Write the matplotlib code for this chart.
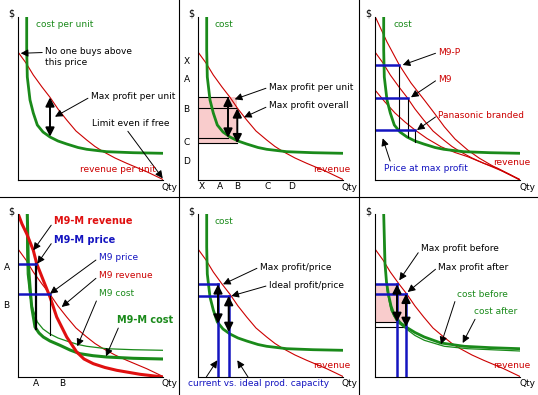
import matplotlib
matplotlib.use("Agg")
import matplotlib.pyplot as plt
from matplotlib.lines import Line2D
from matplotlib.patches import Rectangle

plt.rcParams["font.family"] = ["DejaVu Sans"]
FS = 6.5

GREEN = "#1a8a1a"
RED = "#cc0000"
BLUE = "#1414c0"
PINK = "#f9cccc"

# --- curves (qty, $) in panel units ---
COST_Q = [8.7, 8.7, 9.3, 12, 15.3, 19.3, 25, 32, 40, 48.7, 60, 68.7, 88.7, 115, 145]
COST_P = [163, 130, 103, 80, 67, 55, 48, 43, 39, 36, 32.5, 30.7, 28.3, 27.3, 26.7]

REV_Q = [0, 8, 15.3, 24, 32, 40, 48.7, 58, 68.7, 77, 85.3, 97, 108.7, 128.7, 145]
REV_P = [128, 117, 105, 93, 82.7, 71, 60, 49, 40, 33.5, 28.3, 22, 16.7, 8.3, 0.5]

M9P_Q = [1, 12, 24.3, 36, 49.3, 60, 69.3, 80, 92.7, 104, 116, 130, 145]
M9P_P = [161.7, 138, 115, 97, 80, 66, 53.3, 41, 30, 22, 15, 7.5, 0]

PANA_Q = [0, 10, 20, 30, 40, 52, 66, 80, 92.7, 108, 122.7, 135, 145]
PANA_P = [90, 78, 67, 58, 50, 41.5, 33.3, 27.5, 23.3, 17, 11.7, 5.5, 0]

M9M_REV_Q = [0.3, 4, 8.7, 15.3, 18.7, 25.3, 32, 38.7, 48.7, 58.7, 66, 75.3, 87, 98.7, 122, 145]
M9M_REV_P = [162.7, 153, 143.3, 126.7, 113.3, 96.7, 80, 60, 40, 25, 18, 13.3, 9.5, 6.7, 2.7, 0]

M9M_COST_Q = [9.3, 10.3, 12, 13.7, 17, 21, 25.3, 32, 42, 52, 62, 75, 88.7, 115.3, 145]
M9M_COST_P = [162.7, 113.3, 90, 70, 50, 44, 40, 36, 31.7, 27, 23.3, 21.3, 20, 18.7, 18]

BEFORE_Q = [8.7, 10, 11.5, 13.3, 16, 19.3, 25, 31, 40, 49.3, 66, 89.3, 116, 145]
BEFORE_P = [163, 113.3, 95, 83.3, 71, 61.7, 54.5, 50, 44.5, 40, 34, 30.7, 29.3, 28.3]
AFTER_Q = [8.7, 9.5, 12, 16, 22, 31, 40, 49.3, 69.3, 92.7, 145]
AFTER_P = [163, 120, 86.7, 66.7, 55, 48.3, 41.5, 36.7, 30.7, 28.3, 26]

# tick labels
P2_YTICKS = [120, 101, 71.7, 38.3, 20]
P2_YLABELS = ["X", "A", "B", "C", "D"]
P2_XTICKS = [3.3, 21.7, 39.3, 70, 94]
P2_XLABELS = ["X", "A", "B", "C", "D"]
P4_YTICKS = [110, 73]
P4_XTICKS = [18, 43.7]
P4_LABELS = ["A", "B"]

# price / quantity levels
P2_Q = [30, 39.3]
P2_TOP = [83.3, 71.7]
P2_BOT = [42.3, 36.7]
P3_Q = [24.3, 32.7, 40]
P3_PRICE = [115, 81.7, 50]
P3_COST = [50, 43.3, 38.3]
P4_Q = [18, 32]
P4_PRICE = [112.7, 83.3]
P4_COST = [48.3, 42.3]
P5_Q = [20, 30.7]
P5_PRICE = [92.7, 81]
P5_COST = [53.3, 45]
P6_Q = [22, 31]
P6_PRICE = [92.7, 83.3]
P6_COST = [55, 50]

W, H = 538, 395
fig = plt.figure(figsize=(W / 100, H / 100), dpi=100)

for x in (179, 359):
    fig.add_artist(Line2D([x / W, x / W], [0, 1], color="black", lw=0.8))
fig.add_artist(Line2D([0, 1], [1 - 197 / H, 1 - 197 / H], color="black", lw=0.8))


def panel(left, bottom):
    ax = fig.add_axes([left / W, 1 - bottom / H, 145 / W, 163 / H])
    ax.set_xlim(0, 145)
    ax.set_ylim(0, 163)
    ax.patch.set_alpha(0)
    for s in ("top", "right"):
        ax.spines[s].set_visible(False)
    for s in ("left", "bottom"):
        ax.spines[s].set_linewidth(0.8)
    ax.set_xticks([])
    ax.set_yticks([])
    ax.tick_params(length=0, labelsize=FS)
    ax.text(-7, 166, "$", fontsize=FS + 0.5, ha="center", va="center", clip_on=False)
    ax.text(152, -7, "Qty", fontsize=FS, ha="center", va="center", clip_on=False)
    return ax


def pointer(ax, text, xy, xytext, color="black", relpos=(0, 0.5), **kw):
    ax.annotate(text, xy=xy, xytext=xytext, color=color, fontsize=kw.pop("fontsize", FS),
                ha="left", va=kw.pop("va", "center"), annotation_clip=False,
                arrowprops=dict(arrowstyle="-|>", color="black", lw=0.7, mutation_scale=11,
                                shrinkA=0, shrinkB=0, relpos=relpos), **kw)


def double(ax, q, top, bot):
    ax.annotate("", xy=(q, bot), xytext=(q, top), annotation_clip=False,
                arrowprops=dict(arrowstyle="<|-|>", color="black", lw=1.4, mutation_scale=13,
                                shrinkA=0, shrinkB=0))


axes = [panel(18, 180), panel(198, 180), panel(375, 180),
        panel(18, 377), panel(198, 377), panel(375, 377)]

# panel 1
ax = axes[0]
ax.plot(REV_Q, REV_P, color=RED, lw=0.8)
ax.plot(COST_Q, COST_P, color=GREEN, lw=2)
double(ax, 32, 82.7, 43.3)
ax.text(18, 155.7, "cost per unit", color=GREEN, fontsize=FS, va="center")
pointer(ax, "No one buys above\nthis price", (2.7, 126.7), (27, 132.5), relpos=(0, 0.75), va="top",
        linespacing=1.25)
pointer(ax, "Max profit per unit", (37, 63.3), (72.7, 83.3))
pointer(ax, "Limit even if free", (144.7, 1.7), (73.7, 56), relpos=(0.44, 0))
ax.text(62, 10.7, "revenue per unit", color=RED, fontsize=FS, va="center")

# panel 2
ax = axes[1]
ax.add_patch(Rectangle((0, P2_BOT[1]), P2_Q[1], P2_TOP[0] - P2_BOT[1], color=PINK, lw=0))
for q, t, b in zip(P2_Q, P2_TOP, P2_BOT):
    ax.plot([0, q], [t, t], color="black", lw=0.8)
    ax.plot([0, q], [b, b], color="black", lw=0.8)
ax.plot(REV_Q, REV_P, color=RED, lw=0.8)
ax.plot(COST_Q, COST_P, color=GREEN, lw=2)
for q, t, b in zip(P2_Q, P2_TOP, P2_BOT):
    double(ax, q, t, b)
ax.set_yticks(P2_YTICKS, P2_YLABELS)
ax.set_xticks(P2_XTICKS, P2_XLABELS)
ax.tick_params(axis="y", pad=6)
ax.tick_params(axis="x", pad=1.5)
ax.text(16.7, 155.7, "cost", color=GREEN, fontsize=FS, va="center")
pointer(ax, "Max profit per unit", (36.7, 80.7), (70.7, 92.7))
pointer(ax, "Max profit overall", (46, 62.7), (70.7, 74))
ax.text(115, 11, "revenue", color=RED, fontsize=FS, va="center")

# panel 3
ax = axes[2]
for qs, ps in ((M9P_Q, M9P_P), (REV_Q, REV_P), (PANA_Q, PANA_P)):
    ax.plot(qs, ps, color=RED, lw=0.8)
ax.plot(COST_Q, COST_P, color=GREEN, lw=2)
for q, p, c in zip(P3_Q, P3_PRICE, P3_COST):
    ax.plot([q, q], [p, c], color="black", lw=0.8)
    ax.plot([0, q], [p, p], color=BLUE, lw=1.8)
ax.text(18.7, 155.7, "cost", color=GREEN, fontsize=FS, va="center")
pointer(ax, "M9-P", (27.7, 115), (63.3, 127.7), color=RED)
pointer(ax, "M9", (36, 82.7), (63.3, 101), color=RED)
pointer(ax, "Panasonic branded", (42, 50), (63.3, 65), color=RED)
ax.text(117.7, 17.7, "revenue", color=RED, fontsize=FS, va="center")
pointer(ax, "Price at max profit", (7.7, 41.7), (9.3, 11.7), color=BLUE, relpos=(0.08, 1))

# panel 4
ax = axes[3]
ax.plot(REV_Q, REV_P, color=RED, lw=0.8)
ax.plot(COST_Q, COST_P, color=GREEN, lw=0.9)
ax.plot(M9M_COST_Q, M9M_COST_P, color=GREEN, lw=2.2)
ax.plot(M9M_REV_Q, M9M_REV_P, color="#e01010", lw=2.2)
ax.plot([P4_Q[0]] * 2, [P4_PRICE[0], P4_COST[0]], color="black", lw=1.6)
ax.plot([P4_Q[1]] * 2, [P4_PRICE[1], P4_COST[1]], color="black", lw=0.8)
for q, p in zip(P4_Q, P4_PRICE):
    ax.plot([0, q], [p, p], color=BLUE, lw=1.8)
ax.set_yticks(P4_YTICKS, P4_LABELS)
ax.set_xticks(P4_XTICKS, P4_LABELS)
ax.tick_params(axis="y", pad=6)
ax.tick_params(axis="x", pad=1.5)
pointer(ax, "M9-M revenue", (15.3, 126.7), (36, 155.7), color="#e01010", fontweight="bold", fontsize=7)
pointer(ax, "M9-M price", (19.3, 113.3), (36, 137.3), color=BLUE, fontweight="bold", fontsize=7)
pointer(ax, "M9 price", (32, 83.3), (80.7, 119), color=BLUE)
pointer(ax, "M9 revenue", (43.7, 70), (80.7, 101), color=RED)
pointer(ax, "M9 cost", (59.3, 30.7), (80.7, 83.3), color=GREEN, relpos=(0, 0.3))
pointer(ax, "M9-M cost", (88, 20.7), (98.7, 56.7), color=GREEN, relpos=(0.05, 0),
        fontweight="bold", fontsize=7)

# panel 5
ax = axes[4]
ax.plot(REV_Q, REV_P, color=RED, lw=0.8)
ax.plot(COST_Q, COST_P, color=GREEN, lw=2)
for q, p, c in zip(P5_Q, P5_PRICE, P5_COST):
    ax.plot([0, q], [p, p], color=BLUE, lw=1.8)
    ax.plot([q, q], [0, p], color=BLUE, lw=1.8)
    double(ax, q, p, c)
ax.text(16.7, 155.7, "cost", color=GREEN, fontsize=FS, va="center")
pointer(ax, "Max profit/price", (25, 92.7), (61.7, 110))
pointer(ax, "Ideal profit/price", (33.3, 81), (70.7, 91.7))
ax.text(115, 11, "revenue", color=RED, fontsize=FS, va="center")
ax.text(-10, -6.7, "current vs. ideal prod. capacity", color=BLUE, fontsize=FS, va="center",
        clip_on=False)
pointer(ax, "", (19.3, 16.7), (8.3, 0))
pointer(ax, "", (39.3, 16.7), (50, 0))

# panel 6
ax = axes[5]
ax.add_patch(Rectangle((0, P6_COST[0]), P6_Q[0], P6_PRICE[0] - P6_COST[0], color=PINK, lw=0))
ax.add_patch(Rectangle((0, P6_COST[0]), P6_Q[1], P6_PRICE[1] - P6_COST[0], color=PINK, lw=0))
for q, c in zip(P6_Q, P6_COST):
    ax.plot([0, q], [c, c], color="black", lw=0.8)
ax.plot(REV_Q, REV_P, color=RED, lw=0.8)
ax.plot(AFTER_Q, AFTER_P, color=GREEN, lw=0.9)
ax.plot(BEFORE_Q, BEFORE_P, color=GREEN, lw=2)
for q, p, c in zip(P6_Q, P6_PRICE, P6_COST):
    ax.plot([0, q], [p, p], color=BLUE, lw=1.8)
    ax.plot([q, q], [0, p], color=BLUE, lw=1.8)
    double(ax, q, p, c)
pointer(ax, "Max profit before", (24.3, 96.7), (46, 128.3))
pointer(ax, "Max profit after", (32.7, 85), (63.3, 110))
pointer(ax, "cost before", (66, 32.7), (81.7, 82.7), color=GREEN, relpos=(0, 0.3))
pointer(ax, "cost after", (87.7, 34), (99.3, 65), color=GREEN, relpos=(0.05, 0))
ax.text(117.7, 11, "revenue", color=RED, fontsize=FS, va="center")

fig.savefig("out.png", dpi=100)
